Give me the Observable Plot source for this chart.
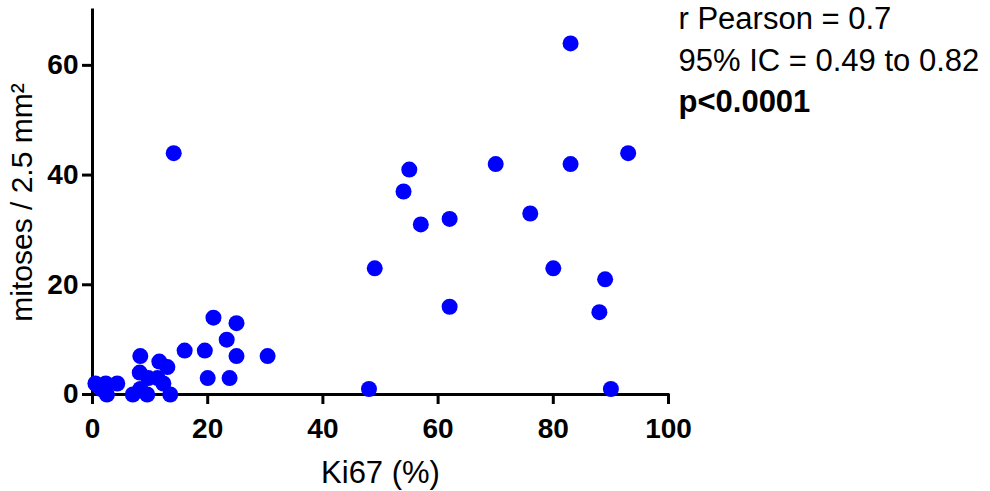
<!DOCTYPE html>
<html><head><meta charset="utf-8">
<script src="https://cdn.jsdelivr.net/npm/d3@7"></script>
<script src="https://cdn.jsdelivr.net/npm/@observablehq/plot@0.6"></script>
<style>body{margin:0;background:#fff;}</style>
</head><body><div id="chart"></div>
<script>
const ki67 = [0.5, 2.3, 4.3, 1.5, 2.5,
  8.3, 11.6, 13, 8.2, 9.7, 11.3, 12.3, 8.3, 7, 9.5, 13.5,
  14.1, 16, 19.5, 21, 25, 23.3, 25, 30.4, 20, 23.8,
  48, 49, 54, 55, 57, 62, 62, 70, 76, 80, 83, 83, 88, 89, 90, 93];
const mitoses = [2, 2, 2, 1, 0,
  7, 6, 5, 4, 3, 3, 2, 1, 0, 0, 0,
  44, 8, 8, 14, 13, 10, 7, 7, 3, 3,
  1, 23, 37, 41, 31, 32, 16, 42, 33, 23, 64, 42, 15, 21, 1, 44];
const xTicks = [0, 20, 40, 60, 80, 100];
const yTicks = [0, 20, 40, 60];
const xTitle = "Ki67 (%)";
const yTitle = "mitoses / 2.5 mm²";
const statLine1 = "r Pearson = 0.7";
const statLine2 = "95% IC = 0.49 to 0.82";
const statLine3 = "p<0.0001";

const points = ki67.map((x, i) => ({x, y: mitoses[i]}));
const font = "Liberation Sans, Arial, sans-serif";

const chart = Plot.plot({
  width: 990, height: 491,
  marginLeft: 92, marginRight: 322, marginTop: 10, marginBottom: 97,
  style: {fontFamily: font, background: "#fff", overflow: "visible", color: "#000"},
  x: {domain: [0, 100]},
  y: {domain: [0, 70]},
  marks: [
    Plot.axisX({ticks: xTicks, tickSize: 10, tickPadding: 14, strokeWidth: 3, fontSize: 28, fontWeight: "bold", label: null, tickFormat: d => d}),
    Plot.axisY({ticks: yTicks, tickSize: 10, tickPadding: 4, strokeWidth: 3, fontSize: 28, fontWeight: "bold", label: null, tickFormat: d => d}),
    Plot.ruleY([0], {stroke: "#000", strokeWidth: 3, strokeLinecap: "square"}),
    Plot.ruleX([0], {stroke: "#000", strokeWidth: 3, strokeLinecap: "square"}),
    Plot.dot(points, {x: "x", y: "y", r: 8, fill: "#0000ff", stroke: "none"}),
    Plot.text([xTitle], {frameAnchor: "bottom", lineAnchor: "top", dy: 66, fontSize: 31, fill: "#000"}),
    Plot.text([yTitle], {frameAnchor: "left", textAnchor: "middle", rotate: -90, lineAnchor: "middle", dx: -70, fontSize: 30, fill: "#000"}),
    Plot.text([statLine1], {frameAnchor: "top-right", textAnchor: "start", lineAnchor: "top", dx: 10, dy: -4, fontSize: 31, fill: "#000"}),
    Plot.text([statLine2], {frameAnchor: "top-right", textAnchor: "start", lineAnchor: "top", dx: 10, dy: 38, fontSize: 31, fill: "#000"}),
    Plot.text([statLine3], {frameAnchor: "top-right", textAnchor: "start", lineAnchor: "top", dx: 10, dy: 79, fontSize: 31, fontWeight: "bold", fill: "#000"})
  ]
});
document.getElementById("chart").append(chart);
</script>
</body></html>
